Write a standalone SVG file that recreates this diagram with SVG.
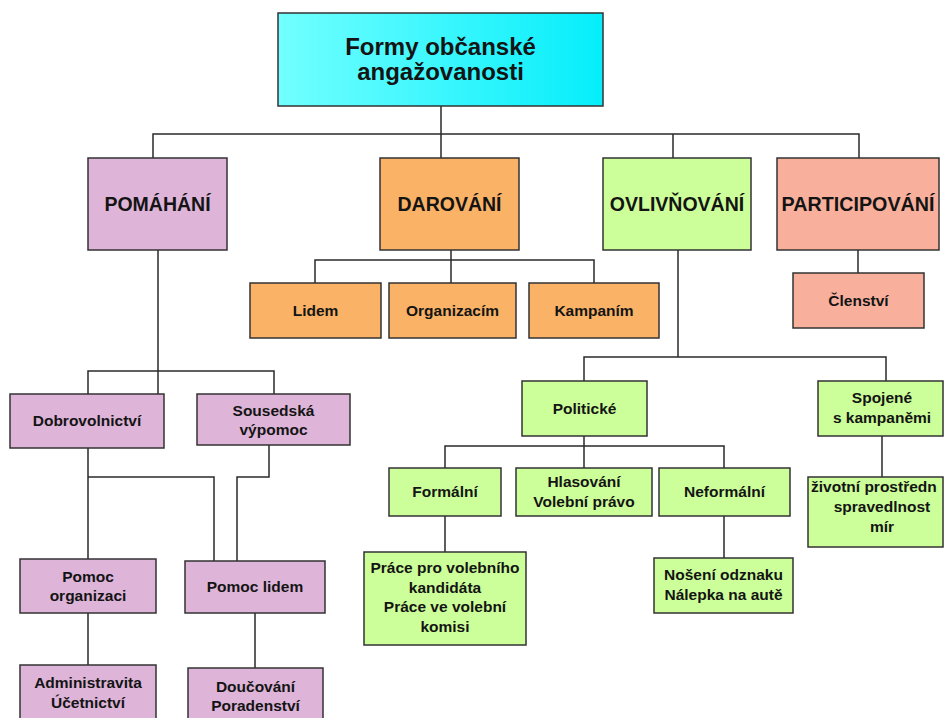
<svg xmlns="http://www.w3.org/2000/svg" width="945" height="718" viewBox="0 0 945 718">
<defs>
<linearGradient id="cyan" x1="0" y1="0" x2="1" y2="0">
<stop offset="0" stop-color="#72FFFF"/>
<stop offset="1" stop-color="#05EEFB"/>
</linearGradient>
</defs>
<style>
rect{stroke:#333;stroke-width:1.5}
.p{fill:#DEB5D9}
.o{fill:#FAB366}
.g{fill:#CCFF99}
.s{fill:#F8B09C}
text{font-family:"Liberation Sans",Arial,sans-serif;font-weight:bold;fill:#141414;text-anchor:middle;font-size:15.5px}
.l1{font-size:19.5px}
.t{font-size:24px}
#conn path{fill:none;stroke:#2a2a2a;stroke-width:1.5}
</style>
<rect width="945" height="718" fill="#fff" style="stroke:none"/>
<g id="conn">
<path d="M441 106V158M153 158V134H859V158M673 134V158"/>
<path d="M451 250V283M315 283V260H594V283"/>
<path d="M858 250V273"/>
<path d="M678 250V357M584 381V357H886V381"/>
<path d="M882 436V477"/>
<path d="M584 436V468M445 468V446H724V468M445 516V552M724 516V558"/>
<path d="M158 250V394M88 394V371H274V394"/>
<path d="M88 448V559M88 477H214V561M269 445V477H237V561"/>
<path d="M88 613V665M255 613V668"/>
</g>
<g id="root"><rect x="278" y="13" width="325" height="93" fill="url(#cyan)"/><text class="t" x="440.5" y="55">Formy občanské</text><text class="t" x="440.5" y="80">angažovanosti</text></g>
<g id="pomahani"><rect class="p" x="88" y="158" width="139" height="92"/><text class="l1" x="157.5" y="211">POMÁHÁNÍ</text></g>
<g id="darovani"><rect class="o" x="380" y="158" width="139" height="92"/><text class="l1" x="449.5" y="211">DAROVÁNÍ</text></g>
<g id="ovlivnovani"><rect class="g" x="603" y="158" width="148" height="92"/><text class="l1" x="677" y="211">OVLIVŇOVÁNÍ</text></g>
<g id="participovani"><rect class="s" x="777" y="158" width="162" height="92"/><text class="l1" x="858" y="211" textLength="153" lengthAdjust="spacingAndGlyphs">PARTICIPOVÁNÍ</text></g>
<g id="lidem"><rect class="o" x="250" y="283" width="131" height="55"/><text x="315.5" y="316">Lidem</text></g>
<g id="organizacim"><rect class="o" x="389" y="283" width="127" height="55"/><text x="452.5" y="316">Organizacím</text></g>
<g id="kampanim"><rect class="o" x="529" y="283" width="130" height="55"/><text x="594" y="316">Kampaním</text></g>
<g id="clenstvi"><rect class="s" x="793" y="273" width="131" height="55"/><text x="858.5" y="306">Členství</text></g>
<g id="politicke"><rect class="g" x="522" y="381" width="125" height="55"/><text x="584.5" y="414">Politické</text></g>
<g id="spojene"><rect class="g" x="818" y="381" width="125" height="55"/><text x="882" y="403">Spojené</text><text x="882" y="423">s kampaněmi</text></g>
<g id="formalni"><rect class="g" x="389" y="468" width="112" height="48"/><text x="445" y="497">Formální</text></g>
<g id="hlasovani"><rect class="g" x="516" y="468" width="136" height="48"/><text x="584" y="487">Hlasování</text><text x="584" y="507">Volební právo</text></g>
<g id="neformalni"><rect class="g" x="659" y="468" width="131" height="48"/><text x="724.5" y="497">Neformální</text></g>
<g id="zivotni"><rect class="g" x="808" y="477" width="135" height="70"/><text x="811" y="492" style="text-anchor:start">životní prostředn</text><text x="882" y="512">spravedlnost</text><text x="882" y="532">mír</text></g>
<g id="prace"><rect class="g" x="364" y="552" width="162" height="93"/><text x="445" y="573">Práce pro volebního</text><text x="445" y="592.5">kandidáta</text><text x="445" y="612">Práce ve volební</text><text x="445" y="631.5">komisi</text></g>
<g id="noseni"><rect class="g" x="654" y="558" width="139" height="55"/><text x="723.5" y="580">Nošení odznaku</text><text x="723.5" y="600">Nálepka na autě</text></g>
<g id="dobrovolnictvi"><rect class="p" x="10" y="394" width="154" height="54"/><text x="87" y="426">Dobrovolnictví</text></g>
<g id="sousedska"><rect class="p" x="197" y="394" width="153" height="51"/><text x="273.5" y="416">Sousedská</text><text x="273.5" y="435">výpomoc</text></g>
<g id="pomocorg"><rect class="p" x="20" y="559" width="136" height="54"/><text x="88" y="582">Pomoc</text><text x="88" y="601">organizaci</text></g>
<g id="pomoclidem"><rect class="p" x="185" y="561" width="140" height="52"/><text x="255" y="592">Pomoc lidem</text></g>
<g id="administravita"><rect class="p" x="20" y="665" width="136" height="70"/><text x="88" y="688">Administravita</text><text x="88" y="708">Účetnictví</text></g>
<g id="doucovani"><rect class="p" x="188" y="668" width="135" height="70"/><text x="255.5" y="692">Doučování</text><text x="255.5" y="711">Poradenství</text></g>
</svg>
